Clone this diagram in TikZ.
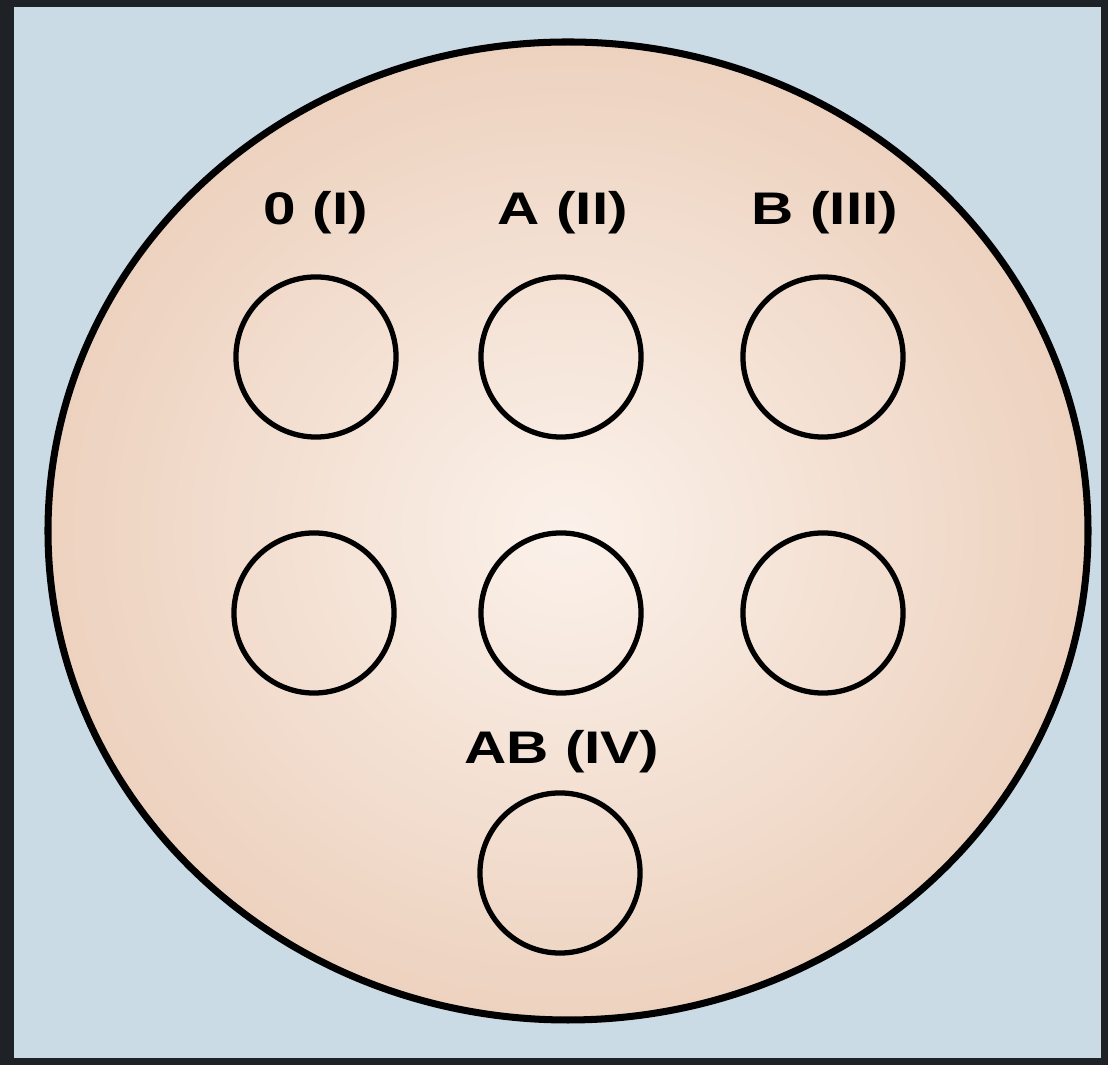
\documentclass[tikz,border=0pt]{standalone}
\usepackage{fontspec}
\setmainfont{Liberation Sans}
\newfontfamily\platefont[FakeStretch=1.28]{Liberation Sans}
\usepackage{tikz}
\usetikzlibrary{positioning}
\definecolor{PlateBlue}{HTML}{CBDBE6}
\definecolor{PlatePeach}{HTML}{EDD2BF}
\definecolor{PlateLight}{HTML}{FBF1EA}
\definecolor{PlateFrame}{HTML}{1E2226}

\begin{document}
\begin{tikzpicture}[
    x=0.01cm,y=-0.01cm,
    well/.style={circle,draw=black,line width=1.5pt,minimum size=1.6cm,inner sep=0pt},
    group/.style={font=\platefont\bfseries\fontsize{13}{15}\selectfont,inner sep=0pt}
  ]
    \useasboundingbox (0,0) rectangle (1108,1065);
    \fill[PlateBlue] (0,0) rectangle (1108,1065);
    \draw[PlateFrame,line width=4pt] (0,0) rectangle (1108,1065);
    \fill[PlateFrame] (0,0) rectangle (14,1065);
    % the plate
    \draw[line width=2pt,inner color=PlateLight,outer color=PlatePeach]
      (568,531) ellipse [x radius=520,y radius=489];
    % wells, upper row
    \node[well] (o1) at (316,357) {};
    \node[well] (a1) at (561,357) {};
    \node[well] (b1) at (823,357) {};
    % wells, lower row
    \node[well] (o2) at (314,613) {};
    \node[well] (a2) at (561,613) {};
    \node[well] (b2) at (823,613) {};
    \node[well] (ab) at (560,873) {};
    % group names
    \node[group] (lo) at (316,213) {0 (I)};
    \node[group] (la) at (563,213) {A (II)};
    \node[group] (lb) at (825,213) {B (III)};
    \node[group] (lab) at (562,752) {AB (IV)};
  \end{tikzpicture}
\end{document}
